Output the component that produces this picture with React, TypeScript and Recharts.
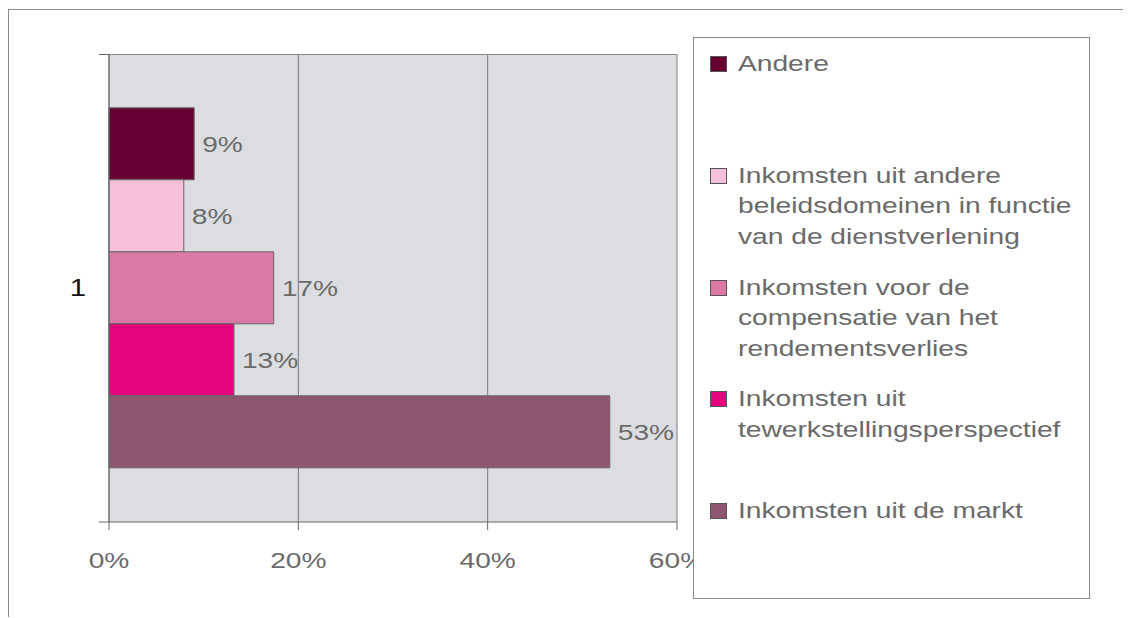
import React from 'react';
import * as R from 'recharts';
import { BarChart, Bar, XAxis, YAxis, CartesianGrid, Legend, LabelList } from 'recharts';

const categories = ['1'];
const seriesKeys = ['andere', 'beleid', 'compensatie', 'tewerk', 'markt'];
const seriesNames = [
  'Andere',
  'Inkomsten uit andere\nbeleidsdomeinen in functie\nvan de dienstverlening',
  'Inkomsten voor de\ncompensatie van het\nrendementsverlies',
  'Inkomsten uit\ntewerkstellingsperspectief',
  'Inkomsten uit de markt',
];
const seriesColors = ['#660033', '#f6c0da', '#da78a6', '#e4067f', '#8e5671'];
const andereValues = [9];
const beleidValues = [7.9];
const compensatieValues = [17.4];
const tewerkValues = [13.2];
const marktValues = [52.9];
const xTicks = [0, 20, 40, 60];

const seriesValues = [andereValues, beleidValues, compensatieValues, tewerkValues, marktValues];

const data = categories.map((c, i) => {
  const row: any = { cat: c };
  seriesKeys.forEach((k, j) => {
    row[k] = seriesValues[j][i];
  });
  return row;
});

const SX = 1.28;
const FONT = '"Liberation Sans", Arial, sans-serif';
const TEXT = '#6a6a6a';

const anyR: any = R;
const usePlotAreaSafe: () => any = anyR.usePlotArea
  ? anyR.usePlotArea
  : anyR.useOffset
  ? () => {
      const o = anyR.useOffset();
      return o ? { x: o.left, y: o.top, width: o.width, height: o.height } : null;
    }
  : () => null;

// Plot frame: top border and Excel-style category boundary ticks on the left axis
const PlotFrame = () => {
  const a = usePlotAreaSafe();
  if (!a) return null;
  const { x, y, width, height } = a;
  return (
    <g>
      <line x1={x} y1={y + 0.5} x2={x + width} y2={y + 0.5} stroke="#8a8a8a" />
      <line x1={x - 10} y1={y + 0.5} x2={x} y2={y + 0.5} stroke="#666" />
      <line x1={x - 10} y1={y + height} x2={x} y2={y + height} stroke="#666" />
    </g>
  );
};

const XTick = (props: any) => {
  const { x, y, payload } = props;
  return (
    <g transform={`translate(${x},${y})`}>
      <text transform={`scale(${SX},1)`} textAnchor="middle" dy="0.71em" fill={TEXT} fontSize={22} fontFamily={FONT}>
        {`${payload.value}%`}
      </text>
    </g>
  );
};

const YTick = (props: any) => {
  const { x, y, payload } = props;
  return (
    <g transform={`translate(${x},${y})`}>
      <text transform={`scale(${SX},1)`} textAnchor="end" dy="0.355em" fill="#111" fontSize={23} fontFamily={FONT}>
        {payload.value}
      </text>
    </g>
  );
};

const BarLabel = (props: any) => {
  const { x, y, width, height, value } = props;
  const lx = Number(x) + Number(width) + 8;
  const ly = Number(y) + Number(height) / 2;
  return (
    <g transform={`translate(${lx},${ly})`}>
      <text transform={`scale(${SX},1)`} textAnchor="start" dy="0.355em" fill={TEXT} fontSize={22} fontFamily={FONT}>
        {`${Math.round(Number(value))}%`}
      </text>
    </g>
  );
};

const LegendContent = () => {
  return (
    <div style={{ paddingTop: 11 }}>
      {seriesNames.map((name, i) => (
        <div key={name} style={{ position: 'relative', height: 111.75 }}>
          <span
            style={{
              position: 'absolute',
              left: 16,
              top: 7,
              width: 17,
              height: 16,
              boxSizing: 'border-box',
              border: '1px solid #555',
              background: seriesColors[i],
            }}
          />
          <div
            style={{
              position: 'absolute',
              left: 44,
              top: 0,
              transform: `scaleX(${SX})`,
              transformOrigin: 'left top',
              whiteSpace: 'pre',
              fontSize: 22,
              lineHeight: '30.7px',
              color: TEXT,
              fontFamily: FONT,
              textAlign: 'left',
            }}
          >
            {name}
          </div>
        </div>
      ))}
    </div>
  );
};

export default function App() {
  return (
    <div style={{ fontFamily: FONT }}>
      <style>{'body{overflow:hidden}'}</style>
      <div
        style={{
          position: 'relative',
          top: 1,
          width: 1122,
          height: 608,
          borderTop: '1px solid #8a8a8a',
          borderLeft: '1px solid #8a8a8a',
        }}
      >
        <BarChart
          width={1122}
          height={608}
          data={data}
          layout="vertical"
          margin={{ top: 44, right: 454, bottom: 36, left: 0 }}
          barCategoryGap="11.5%"
          barGap={0}
          style={{ fontFamily: FONT }}
        >
          <CartesianGrid horizontal={false} vertical={true} stroke="#7a7a7a" fill="#dcdde0" fillOpacity={1} />
          <XAxis
            type="number"
            domain={[0, 60]}
            ticks={xTicks}
            interval={0}
            axisLine={{ stroke: '#666' }}
            tickLine={{ stroke: '#666' }}
            tickSize={8}
            tickMargin={22}
            height={60}
            tick={<XTick />}
          />
          <YAxis
            type="category"
            dataKey="cat"
            width={100}
            axisLine={{ stroke: '#666' }}
            tickLine={false}
            tickSize={0}
            tickMargin={23}
            tick={<YTick />}
          />
          {seriesKeys.map((k, i) => (
            <Bar
              key={k}
              dataKey={k}
              name={seriesNames[i]}
              fill={seriesColors[i]}
              stroke="#666"
              strokeWidth={1}
              isAnimationActive={false}
            >
              <LabelList dataKey={k} content={<BarLabel />} />
            </Bar>
          ))}
          <PlotFrame />
          <Legend
            layout="vertical"
            align="center"
            verticalAlign="middle"
            content={<LegendContent />}
            wrapperStyle={{
              left: 684,
              top: 27,
              width: 397,
              height: 562,
              border: '1px solid #8a8a8a',
              background: '#fff',
              boxSizing: 'border-box',
              margin: 0,
            }}
          />
        </BarChart>
      </div>
    </div>
  );
}
